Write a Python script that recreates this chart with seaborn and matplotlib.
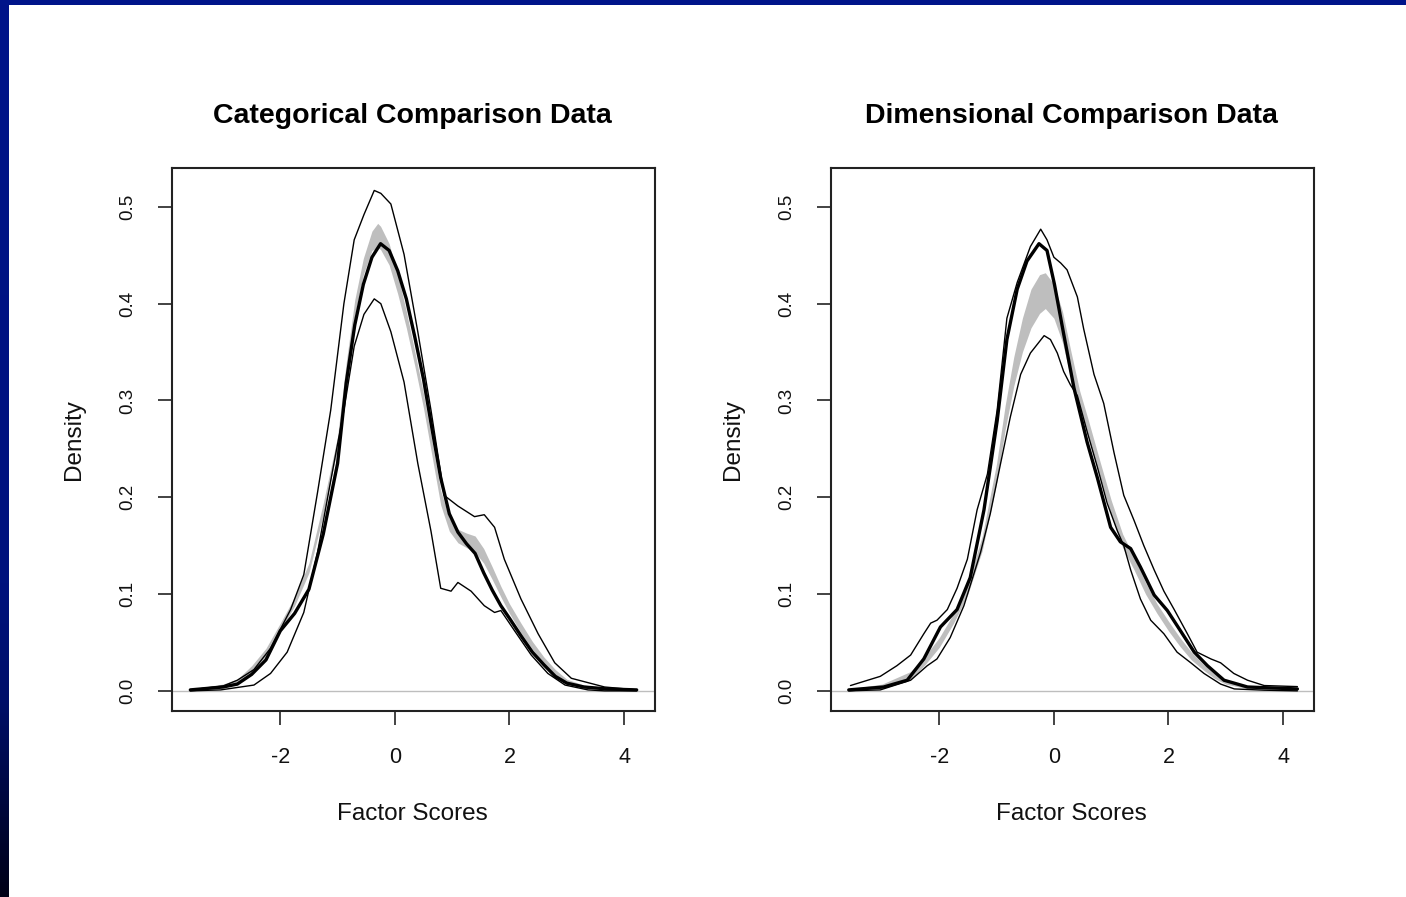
import numpy as np
import pandas as pd
import matplotlib
matplotlib.use("Agg")
import matplotlib.pyplot as plt
from matplotlib.patches import Rectangle
import seaborn as sns

# ---------------- data ----------------
panel_titles = ["Categorical Comparison Data", "Dimensional Comparison Data"]
x_label = "Factor Scores"
y_label = "Density"
x_ticks = [-2, 0, 2, 4]
y_ticks = [0.0, 0.1, 0.2, 0.3, 0.4, 0.5]

# Categorical panel: observed density (thick line)
cat_obs_x = [-3.57, -3.0, -2.75, -2.5, -2.25, -2.0, -1.75, -1.5, -1.25, -1.0, -0.85, -0.7, -0.55, -0.4,
             -0.25, -0.1, 0.05, 0.2, 0.35, 0.5, 0.65, 0.8, 0.95, 1.1, 1.25, 1.4, 1.55, 1.7, 1.85, 2.0,
             2.2, 2.4, 2.6, 2.8, 3.0, 3.3, 3.7, 4.22]
cat_obs_y = [0.001, 0.004, 0.007, 0.017, 0.032, 0.062, 0.080, 0.105, 0.162, 0.235, 0.318, 0.378, 0.420, 0.448,
             0.462, 0.455, 0.434, 0.405, 0.365, 0.322, 0.270, 0.220, 0.183, 0.164, 0.152, 0.142, 0.122, 0.104,
             0.088, 0.075, 0.057, 0.040, 0.027, 0.015, 0.008, 0.004, 0.002, 0.001]
# Categorical panel: comparison band (gray)
cat_band_x = [-3.57, -3.0, -2.75, -2.5, -2.25, -2.0, -1.75, -1.5, -1.25, -1.0, -0.85, -0.7, -0.55, -0.4,
              -0.3, -0.25, -0.1, 0.05, 0.2, 0.35, 0.5, 0.65, 0.8, 0.95, 1.1, 1.25, 1.4, 1.55, 1.7, 1.85,
              2.0, 2.2, 2.4, 2.6, 2.8, 3.0, 3.3, 3.7, 4.22]
cat_band_lo = [0.000, 0.003, 0.007, 0.019, 0.036, 0.062, 0.088, 0.122, 0.182, 0.250, 0.325, 0.388, 0.430, 0.455,
               0.458, 0.456, 0.440, 0.410, 0.375, 0.335, 0.292, 0.242, 0.192, 0.165, 0.153, 0.148, 0.143, 0.132,
               0.115, 0.097, 0.080, 0.060, 0.043, 0.028, 0.016, 0.008, 0.003, 0.001, 0.000]
cat_band_hi = [0.002, 0.007, 0.012, 0.026, 0.044, 0.070, 0.097, 0.132, 0.194, 0.263, 0.339, 0.404, 0.447, 0.475,
               0.483, 0.480, 0.462, 0.430, 0.392, 0.350, 0.307, 0.257, 0.207, 0.178, 0.167, 0.163, 0.160, 0.147,
               0.128, 0.108, 0.090, 0.070, 0.051, 0.035, 0.022, 0.012, 0.006, 0.003, 0.002]
# Categorical panel: upper and lower thin curves
cat_up_x = [-3.57, -3.0, -2.75, -2.46, -2.17, -1.82, -1.59, -1.35, -1.12, -0.89, -0.71, -0.54, -0.36, -0.245,
            -0.07, 0.16, 0.4, 0.63, 0.86, 1.1, 1.39, 1.56, 1.74, 1.91, 2.2, 2.5, 2.79, 3.08, 3.66, 4.22]
cat_up_y = [0.001, 0.005, 0.011, 0.022, 0.044, 0.084, 0.120, 0.205, 0.290, 0.400, 0.466, 0.492, 0.517, 0.514,
            0.503, 0.451, 0.371, 0.290, 0.202, 0.191, 0.180, 0.182, 0.169, 0.136, 0.095, 0.059, 0.029, 0.013,
            0.004, 0.001]
cat_lo_x = [-3.57, -3.04, -2.46, -2.17, -1.88, -1.59, -1.35, -1.12, -0.89, -0.71, -0.54, -0.36, -0.245, -0.07,
            0.16, 0.4, 0.63, 0.8, 0.98, 1.1, 1.33, 1.56, 1.74, 1.85, 2.09, 2.38, 2.67, 2.97, 3.37, 3.66, 4.22]
cat_lo_y = [0.000, 0.001, 0.006, 0.018, 0.040, 0.081, 0.143, 0.217, 0.290, 0.356, 0.389, 0.405, 0.400, 0.371,
            0.319, 0.235, 0.165, 0.106, 0.103, 0.112, 0.103, 0.088, 0.081, 0.083, 0.062, 0.037, 0.018, 0.006,
            0.001, 0.000, 0.000]

# Dimensional panel: observed density (thick line)
dim_obs_x = [-3.58, -2.97, -2.56, -2.27, -1.98, -1.69, -1.46, -1.22, -0.99, -0.82, -0.64, -0.47, -0.26, -0.12,
             0.01, 0.17, 0.35, 0.58, 0.76, 0.99, 1.16, 1.34, 1.51, 1.75, 1.98, 2.21, 2.45, 2.68, 2.97, 3.38, 4.25]
dim_obs_y = [0.001, 0.004, 0.011, 0.033, 0.066, 0.084, 0.117, 0.187, 0.279, 0.363, 0.415, 0.444, 0.462, 0.455,
             0.420, 0.369, 0.313, 0.257, 0.220, 0.169, 0.154, 0.147, 0.128, 0.099, 0.083, 0.062, 0.040, 0.026,
             0.011, 0.004, 0.002]
# Dimensional panel: comparison band (gray)
dim_band_x = [-3.58, -3.0, -2.5, -2.25, -2.0, -1.75, -1.5, -1.25, -1.0, -0.85, -0.7, -0.55, -0.4, -0.25, -0.15,
              0.0, 0.15, 0.3, 0.45, 0.6, 0.8, 1.0, 1.2, 1.4, 1.6, 1.8, 2.0, 2.2, 2.4, 2.6, 2.8, 3.0, 3.4, 3.8, 4.25]
dim_band_lo = [0.000, 0.003, 0.012, 0.027, 0.045, 0.070, 0.100, 0.145, 0.215, 0.270, 0.315, 0.350, 0.375, 0.390,
               0.395, 0.385, 0.360, 0.322, 0.290, 0.262, 0.222, 0.182, 0.148, 0.125, 0.100, 0.080, 0.062, 0.046,
               0.032, 0.022, 0.013, 0.007, 0.002, 0.001, 0.000]
dim_band_hi = [0.002, 0.007, 0.020, 0.036, 0.055, 0.080, 0.112, 0.160, 0.235, 0.295, 0.345, 0.385, 0.415, 0.430,
               0.432, 0.420, 0.392, 0.350, 0.310, 0.280, 0.238, 0.197, 0.162, 0.138, 0.112, 0.090, 0.072, 0.055,
               0.040, 0.028, 0.018, 0.011, 0.005, 0.003, 0.002]
# Dimensional panel: upper and lower thin curves
dim_up_x = [-3.55, -3.03, -2.74, -2.5, -2.27, -2.15, -2.04, -1.86, -1.69, -1.51, -1.34, -1.16, -0.99, -0.82,
            -0.64, -0.41, -0.23, -0.12, 0.0, 0.12, 0.23, 0.41, 0.52, 0.7, 0.87, 1.05, 1.22, 1.4, 1.57, 1.75,
            1.92, 2.1, 2.33, 2.5, 2.74, 2.91, 3.14, 3.38, 3.67, 4.25]
dim_up_y = [0.0055, 0.015, 0.026, 0.037, 0.059, 0.070, 0.073, 0.084, 0.106, 0.136, 0.187, 0.224, 0.290, 0.385,
            0.422, 0.459, 0.477, 0.466, 0.448, 0.442, 0.435, 0.407, 0.374, 0.327, 0.297, 0.246, 0.202, 0.176,
            0.150, 0.125, 0.103, 0.084, 0.059, 0.040, 0.033, 0.029, 0.018, 0.011, 0.0055, 0.0044]
dim_lo_x = [-3.58, -3.32, -3.03, -2.5, -2.21, -2.04, -1.81, -1.57, -1.28, -1.11, -0.93, -0.76, -0.58, -0.41,
            -0.17, -0.06, 0.06, 0.17, 0.29, 0.41, 0.58, 0.76, 0.93, 1.11, 1.22, 1.34, 1.51, 1.69, 1.92, 2.15,
            2.39, 2.62, 2.91, 3.15, 3.67, 4.25]
dim_lo_y = [0.000, 0.0005, 0.001, 0.011, 0.026, 0.033, 0.055, 0.088, 0.143, 0.183, 0.235, 0.283, 0.327, 0.349,
            0.367, 0.363, 0.349, 0.330, 0.316, 0.305, 0.268, 0.231, 0.194, 0.165, 0.150, 0.125, 0.095, 0.073,
            0.059, 0.040, 0.029, 0.018, 0.007, 0.002, 0.0007, 0.000]

panels = [
    dict(obs=(cat_obs_x, cat_obs_y), band=(cat_band_x, cat_band_lo, cat_band_hi),
         up=(cat_up_x, cat_up_y), lo=(cat_lo_x, cat_lo_y)),
    dict(obs=(dim_obs_x, dim_obs_y), band=(dim_band_x, dim_band_lo, dim_band_hi),
         up=(dim_up_x, dim_up_y), lo=(dim_lo_x, dim_lo_y)),
]

# ---------------- style ----------------
sns.set_theme(style="white")
plt.rcParams["font.family"] = ["Liberation Sans", "DejaVu Sans"]

W, H = 1406, 897
fig = plt.figure(figsize=(W / 100, H / 100), dpi=100, facecolor="white")

def fx(px):
    return px / W

def fy(py):
    return 1 - py / H

# slide decoration: blue top bar and gradient left bar
fig.add_artist(Rectangle((0, fy(5)), 1, 5 / H, transform=fig.transFigure,
                         facecolor="#00148A", edgecolor="none", zorder=0))
grad_ax = fig.add_axes([0, 0, fx(9), fy(5)])
yy = np.linspace(0, 1, 300)
r = np.zeros_like(yy)
g = np.interp(yy, [0, 0.65, 0.78, 1.0], [20, 18, 15, 0]) / 255
b = np.interp(yy, [0, 0.65, 0.78, 1.0], [138, 125, 105, 22]) / 255
grad = np.stack([r, g, b], axis=1)[:, None, :]
grad_ax.imshow(grad, aspect="auto", extent=[0, 1, 1, 0])
grad_ax.set_axis_off()

axes_left = [172, 831]
ax_top, ax_bot = 168, 711
ax_w = 483

for i, (p, title) in enumerate(zip(panels, panel_titles)):
    left = axes_left[i]
    ax = fig.add_axes([fx(left), fy(ax_bot), fx(ax_w), (ax_bot - ax_top) / H])
    ax.set_facecolor("white")

    bx, blo, bhi = p["band"]
    ax.fill_between(bx, blo, bhi, color="#BEBEBE", linewidth=0, zorder=2)
    ax.axhline(0, color="#BEBEBE", linewidth=1.0, zorder=1)

    for key, lw in (("up", 1.0), ("lo", 1.0)):
        lx, ly = p[key]
        df = pd.DataFrame({"x": lx, "y": ly})
        sns.lineplot(data=df, x="x", y="y", ax=ax, color="black", linewidth=lw,
                     estimator=None, sort=False, zorder=3)
    ox, oy = p["obs"]
    df = pd.DataFrame({"x": ox, "y": oy})
    sns.lineplot(data=df, x="x", y="y", ax=ax, color="black", linewidth=2.4,
                 estimator=None, sort=False, zorder=4)

    ax.set_xlim(-3.89, 4.54)
    ax.set_ylim(-0.0208, 0.5402)
    ax.set_xticks(x_ticks)
    ax.set_xticklabels([str(t) for t in x_ticks], fontsize=15.5)
    ax.set_yticks(y_ticks)
    ax.set_yticklabels([f"{t:.1f}" for t in y_ticks], fontsize=13.5, rotation=90, va="center")
    ax.tick_params(axis="both", direction="out", length=10, width=1.2, color="#222222",
                   pad=16, labelcolor="#111111", bottom=True, left=True)
    ax.set_xlabel("")
    ax.set_ylabel("")
    for s in ax.spines.values():
        s.set_visible(True)
        s.set_color("#222222")
        s.set_linewidth(1.5)

    cx = left + ax_w / 2
    fig.text(fx(cx - 1), fy(123), title, ha="center", va="baseline",
             fontsize=20.5, fontweight="bold", color="black")
    fig.text(fx(cx - 1), fy(820), x_label, ha="center", va="baseline",
             fontsize=17.5, color="#111111")
    fig.text(fx(left - 98), fy(440), y_label, ha="center", va="center",
             rotation=90, fontsize=17.5, color="#111111")

fig.savefig("out.png", dpi=100, facecolor="white")
